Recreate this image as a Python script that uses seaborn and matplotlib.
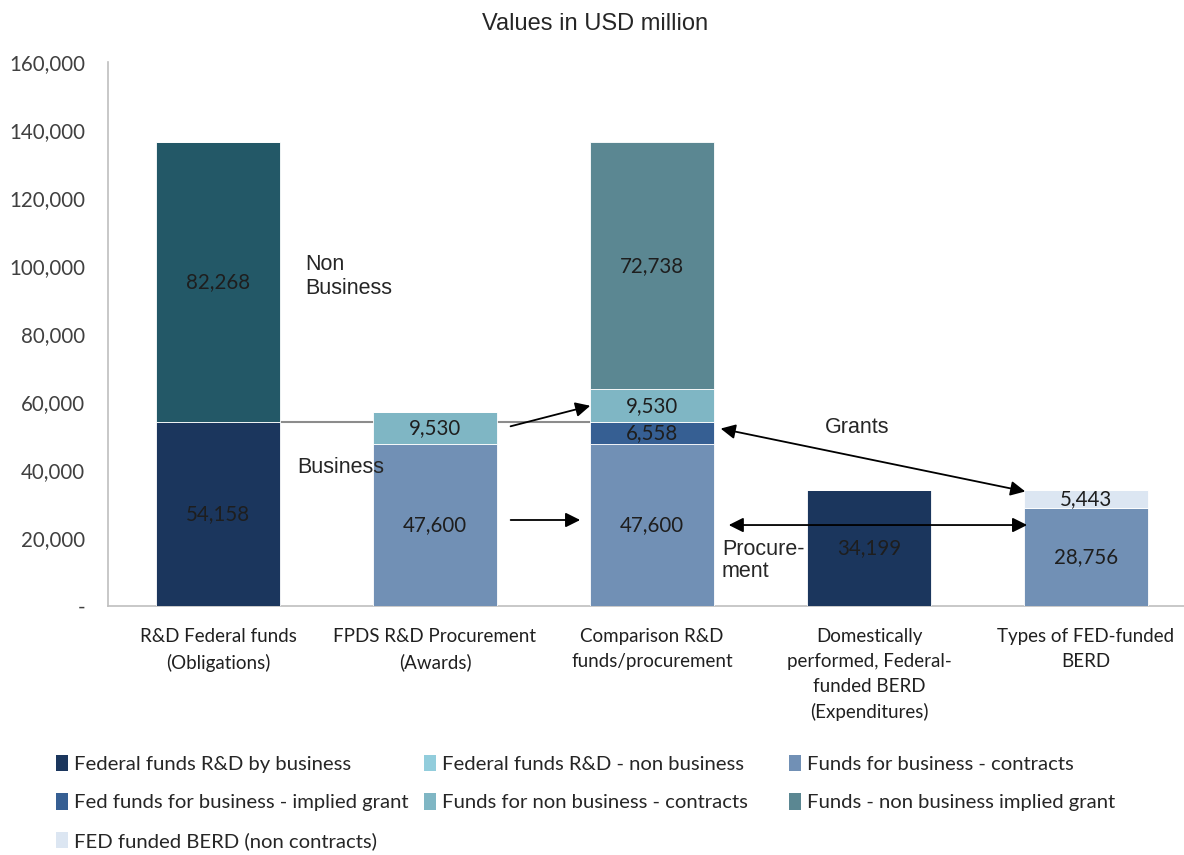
import numpy as np
import pandas as pd
import matplotlib.pyplot as plt
import seaborn as sns
from matplotlib.patches import Patch

# categories (x axis)
categories = ['R&D Federal funds\n(Obligations)', 'FPDS R&D Procurement\n(Awards)',
              'Comparison R&D\nfunds/procurement', 'Domestically\nperformed, Federal-\nfunded BERD\n(Expenditures)',
              'Types of FED-funded\nBERD']

# stacked series, bottom to top
series_names = ['Federal funds R&D by business', 'Funds for business - contracts',
                'Fed funds for business - implied grant', 'FED funded BERD (non contracts)',
                'Funds for non business - contracts', 'Federal funds R&D - non business',
                'Funds - non business implied grant']
business = [54158, 0, 0, 34199, 0]
bus_contracts = [0, 47600, 47600, 0, 28756]
bus_grant = [0, 0, 6558, 0, 0]
berd_noncontract = [0, 0, 0, 0, 5443]
nonbus_contracts = [0, 9530, 9530, 0, 0]
nonbus = [82268, 0, 0, 0, 0]
nonbus_grant = [0, 0, 72738, 0, 0]
series_values = [business, bus_contracts, bus_grant, berd_noncontract,
                 nonbus_contracts, nonbus, nonbus_grant]

bar_colors = ['#1b365d', '#7190b5', '#365f93', '#dce6f2', '#7fb6c4', '#235867', '#5b8792']
legend_colors = {'Federal funds R&D by business': '#1b365d',
                 'Federal funds R&D - non business': '#92cddc',
                 'Funds for business - contracts': '#7190b5',
                 'Fed funds for business - implied grant': '#365f93',
                 'Funds for non business - contracts': '#7fb6c4',
                 'Funds - non business implied grant': '#5b8792',
                 'FED funded BERD (non contracts)': '#dce6f2'}
legend_columns = [['Federal funds R&D by business', 'Fed funds for business - implied grant',
                   'FED funded BERD (non contracts)'],
                  ['Federal funds R&D - non business', 'Funds for non business - contracts'],
                  ['Funds for business - contracts', 'Funds - non business implied grant']]

sns.set_theme(style="white")
plt.rcParams['font.family'] = ['Lato', 'DejaVu Sans']

fig = plt.figure(figsize=(11.84, 8.55), dpi=100)
ax = fig.add_axes([0.0912, 0.2912, 0.9088, 0.6363])

df = pd.DataFrame({'cat': categories})
bottom = np.zeros(len(categories))
for name, vals, col in zip(series_names, series_values, bar_colors):
    df['val'] = vals
    sns.barplot(data=df, x='cat', y='val', bottom=bottom, color=col, width=0.57,
                saturation=1, edgecolor='white', linewidth=0.6, ax=ax, zorder=3)
    for i, v in enumerate(vals):
        if v > 0:
            ax.text(i, bottom[i] + v / 2, f'{v:,}', ha='center', va='center',
                    fontsize=14.8, color='#1e1e1e', zorder=5)
    bottom = bottom + np.array(vals)

ax.set_xlabel('')
ax.set_ylabel('')
ax.set_xlim(-0.507, 4.452)
ax.set_ylim(0, 160000)
ax.set_yticks(range(0, 160001, 20000))
ax.set_yticklabels(['-'] + [f'{v:,}' for v in range(20000, 160001, 20000)])
ax.tick_params(axis='y', labelsize=14.8, labelcolor='#404040', length=0, pad=16.5)
ax.tick_params(axis='x', labelsize=13.5, labelcolor='#202020', length=0, pad=16)
for lab in ax.get_xticklabels():
    lab.set_linespacing(1.55)
for s in ['top', 'right']:
    ax.spines[s].set_visible(False)
for s in ['left', 'bottom']:
    ax.spines[s].set_color('#bfbfbf')
    ax.spines[s].set_linewidth(1.2)

# connector line at business level
ax.plot([0.285, 1.715], [54158, 54158], color='#8c8c8c', lw=1.5, zorder=2)

arrow = dict(arrowstyle='-|>', color='black', lw=1.3, mutation_scale=22)
darrow = dict(arrowstyle='<|-|>', color='black', lw=1.3, mutation_scale=22)
ax.annotate('', xy=(1.728, 59100), xytext=(1.336, 52650), arrowprops=arrow, zorder=6)
ax.annotate('', xy=(1.682, 25300), xytext=(1.336, 25300), arrowprops=arrow, zorder=6)
ax.annotate('', xy=(2.304, 52350), xytext=(3.733, 33530), arrowprops=darrow, zorder=6)
ax.annotate('', xy=(2.341, 23820), xytext=(3.742, 23820), arrowprops=darrow, zorder=6)

arial = ['Liberation Sans', 'DejaVu Sans']
ax.text(0.40, 96800, 'Non\nBusiness', fontsize=15.5, family=arial, va='center', ha='left')
ax.text(0.364, 40600, 'Business', fontsize=15.5, family=arial, va='center', ha='left')
ax.text(2.945, 52400, 'Grants', fontsize=15.5, family=arial, va='center', ha='center')
ax.text(2.323, 13500, 'Procure-\nment', fontsize=15.5, family=arial, va='center', ha='left',
        linespacing=1.05, zorder=6)

fig.text(0.503, 0.972, 'Values in USD million', fontsize=17, family=arial,
         ha='center', va='center')

# legend, one block per column
col_x = [65 / 1184, 433 / 1184, 798 / 1184]
for cx, names in zip(col_x, legend_columns):
    handles = [Patch(facecolor=legend_colors[n], edgecolor='none') for n in names]
    fig.legend(handles, names, loc='upper left', bbox_to_anchor=(cx - 0.008, 1 - 755 / 855),
               frameon=False, fontsize=14.6, handlelength=0.6, handleheight=0.85,
               handletextpad=0.3, labelspacing=1.0, borderaxespad=0, borderpad=0)

fig.savefig('out.png', dpi=100)
